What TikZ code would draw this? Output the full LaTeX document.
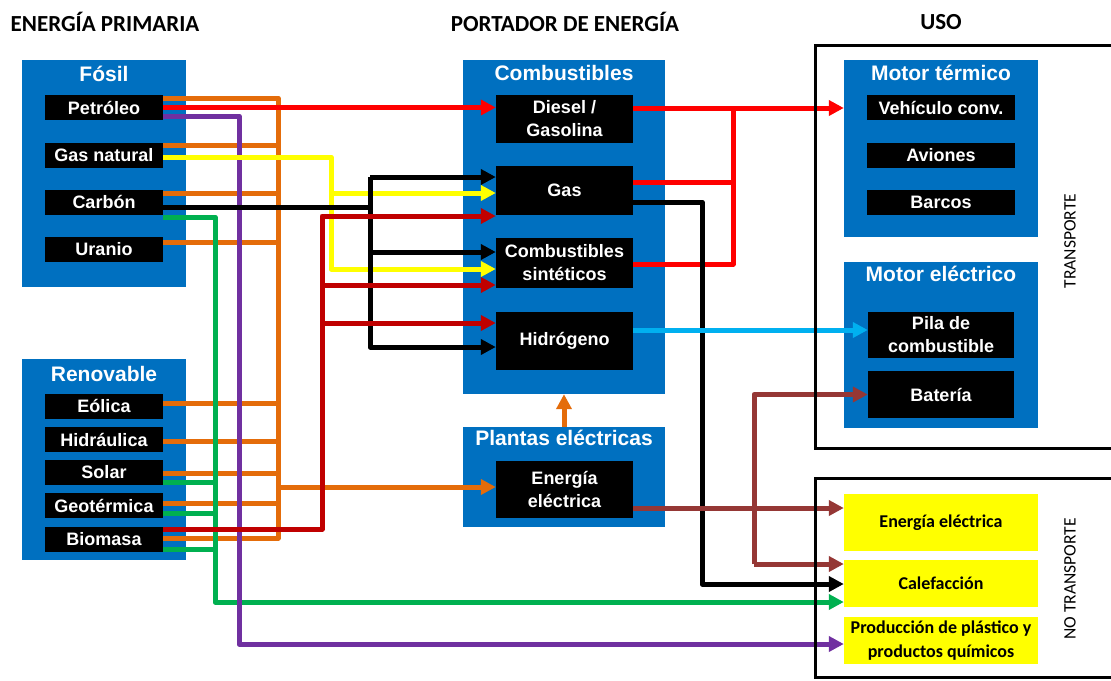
\documentclass[tikz,border=0pt]{standalone}
\usepackage{fontspec}
\setmainfont{Liberation Sans}
\newfontfamily\calibri{Carlito}
\usetikzlibrary{arrows.meta}
\definecolor{boxblue}{HTML}{0070C0}
\definecolor{orng}{HTML}{E46C0A}
\definecolor{grn}{HTML}{00B050}
\definecolor{purp}{HTML}{7030A0}
\definecolor{brred}{HTML}{FF0000}
\definecolor{dred}{HTML}{C00000}
\definecolor{lblue}{HTML}{00B0F0}
\definecolor{brwn}{HTML}{953735}
\definecolor{yel}{HTML}{FFFF00}
\begin{document}
\begin{tikzpicture}[x=1pt,y=-1pt,
 grpbox/.style={fill=boxblue, inner sep=0pt},
 itembox/.style={fill=black, text=white, font=\bfseries\fontsize{18}{23}\selectfont, inner sep=0pt, align=center},
 ttl/.style={text=white, font=\bfseries\fontsize{21}{24}\selectfont, inner sep=0pt},
 usebox/.style={fill=yel, text=black, font=\calibri\bfseries\fontsize{18}{24}\selectfont, inner sep=0pt, align=center, minimum width=194pt},
 hdr/.style={font=\calibri\bfseries\fontsize{23}{24}\selectfont, inner sep=0pt},
 sidelbl/.style={font=\calibri\fontsize{17.5}{20}\selectfont, rotate=90, inner sep=0pt},
 uframe/.style={draw=black, line width=3pt},
 conn/.style={line width=5pt, line join=round},
 arr/.style={-{Triangle[length=15pt,width=15pt]}},
]
\clip (0,0) rectangle (1111,680);
\fill[white] (0,0) rectangle (1111,680);

% headers
\node[hdr] (h1) at (105,22) {ENERGÍA PRIMARIA};
\node[hdr] (h2) at (565,22) {PORTADOR DE ENERGÍA};
\node[hdr] (h3) at (941,22) {USO};

% primary energy
\node[grpbox, minimum width=164pt, minimum height=227pt] (fosil) at (104,173.5) {};
\node[ttl] (fosilT) at (104,74) {Fósil};
\node[itembox, minimum width=118pt, minimum height=25pt] (pet) at (104,107.5) {Petróleo};
\node[itembox, minimum width=118pt, minimum height=25pt] (gasn) at (104,155) {Gas natural};
\node[itembox, minimum width=118pt, minimum height=25pt] (carb) at (104,202) {Carbón};
\node[itembox, minimum width=118pt, minimum height=25pt] (uran) at (104,249.5) {Uranio};

\node[grpbox, minimum width=164pt, minimum height=201pt] (renov) at (104,459.5) {};
\node[ttl] (renovT) at (104,374) {Renovable};
\node[itembox, minimum width=118pt, minimum height=25pt] (eol) at (104,406) {Eólica};
\node[itembox, minimum width=118pt, minimum height=25pt] (hid) at (104,439.5) {Hidráulica};
\node[itembox, minimum width=118pt, minimum height=25pt] (sol) at (104,472.5) {Solar};
\node[itembox, minimum width=118pt, minimum height=25pt] (geo) at (104,505.5) {Geotérmica};
\node[itembox, minimum width=118pt, minimum height=25pt] (bio) at (104,539) {Biomasa};

% carriers
\node[grpbox, minimum width=202pt, minimum height=334pt] (comb) at (564,227) {};
\node[ttl] (combT) at (564,73) {Combustibles};
\node[itembox, minimum width=137pt, minimum height=48pt] (diesel) at (564.5,119) {Diesel /\\Gasolina};
\node[itembox, minimum width=137pt, minimum height=49pt] (gas) at (564.5,190.5) {Gas};
\node[itembox, minimum width=137pt, minimum height=50pt] (sint) at (564.5,263) {Combustibles\\sintéticos};
\node[itembox, minimum width=137pt, minimum height=58pt] (hidro) at (564.5,341) {Hidrógeno};

\node[grpbox, minimum width=202pt, minimum height=100pt] (plantas) at (564,477) {};
\node[ttl] (plantasT) at (564,438) {Plantas eléctricas};
\node[itembox, minimum width=137pt, minimum height=57pt] (eelec) at (564.5,489.5) {Energía\\eléctrica};

% uses
\node[grpbox, minimum width=194pt, minimum height=177pt] (motort) at (941,148.5) {};
\node[ttl] (motortT) at (941,73) {Motor térmico};
\node[itembox, minimum width=148pt, minimum height=25pt] (veh) at (941,107.5) {Vehículo conv.};
\node[itembox, minimum width=148pt, minimum height=25pt] (avi) at (941,155) {Aviones};
\node[itembox, minimum width=148pt, minimum height=25pt] (bar) at (941,202) {Barcos};

\node[grpbox, minimum width=194pt, minimum height=166pt] (motore) at (941,345) {};
\node[ttl] (motoreT) at (941,274) {Motor eléctrico};
\node[itembox, minimum width=146pt, minimum height=46pt] (pila) at (941,335) {Pila de\\combustible};
\node[itembox, minimum width=146pt, minimum height=47pt] (bat) at (941,394.5) {Batería};

\node[usebox, minimum height=57pt] (yel1) at (941,522.5) {Energía eléctrica};
\node[usebox, minimum height=47pt] (cal) at (941,583.5) {Calefacción};
\node[usebox, minimum height=47pt] (prod) at (941,640.5) {Producción de plástico y\\productos químicos};

\node[sidelbl] (tr) at (1070,241) {TRANSPORTE};
\node[sidelbl] (ntr) at (1070,579) {NO TRANSPORTE};

% bus x positions
\coordinate (xo) at (278,0);
\coordinate (xg) at (215,0);
\coordinate (xp) at (239,0);
\coordinate (xy) at (331,0);
\coordinate (xk) at (370,0);
\coordinate (xr) at (322,0);
\coordinate (xR) at (733,0);
\coordinate (xK) at (702,0);
\coordinate (xB) at (754,0);

% orange
\draw[conn, orng] ([yshift=9.5pt]pet.east) -| ([yshift=1pt]bio.east -| xo) -- ([yshift=1pt]bio.east);
\draw[conn, orng] ([yshift=10pt]gasn.east) -- ([yshift=10pt]gasn.east -| xo);
\draw[conn, orng] ([yshift=9pt]carb.east) -- ([yshift=9pt]carb.east -| xo);
\draw[conn, orng] ([yshift=7.5pt]uran.east) -- ([yshift=7.5pt]uran.east -| xo);
\draw[conn, orng] ([yshift=3pt]eol.east) -- ([yshift=3pt]eol.east -| xo);
\draw[conn, orng] ([yshift=-1.5pt]hid.east) -- ([yshift=-1.5pt]hid.east -| xo);
\draw[conn, orng] ([yshift=-0.5pt]sol.east) -- ([yshift=-0.5pt]sol.east -| xo);
\draw[conn, orng] ([yshift=2.5pt]geo.east) -- ([yshift=2.5pt]geo.east -| xo);
\draw[conn, orng, arr] ([yshift=2.5pt]eelec.west -| xo) -- ([yshift=2.5pt]eelec.west);
\draw[conn, orng, arr] (plantas.north) -- (comb.south);

% green
\draw[conn, grn, arr] ([yshift=-15pt]carb.east) -| ([yshift=-18.5pt]cal.west -| xg) -- ([yshift=-18.5pt]cal.west);
\draw[conn, grn] ([yshift=-9.5pt]sol.east) -- ([yshift=-9.5pt]sol.east -| xg);
\draw[conn, grn] ([yshift=-7.5pt]geo.east) -- ([yshift=-7.5pt]geo.east -| xg);
\draw[conn, grn] ([yshift=-10pt]bio.east) -- ([yshift=-10pt]bio.east -| xg);

% purple
\draw[conn, purp, arr] ([yshift=-8.5pt]pet.east) -| ([yshift=-3.5pt]prod.west -| xp) -- ([yshift=-3.5pt]prod.west);

% yellow
\draw[conn, yel, arr] ([yshift=-2pt]gasn.east) -| ([yshift=-6pt]sint.west -| xy) -- ([yshift=-6pt]sint.west);
\draw[conn, yel, arr] ([yshift=-2.5pt]gas.west -| xy) -- ([yshift=-2.5pt]gas.west);

% black (left)
\draw[conn, black] ([yshift=-5pt]carb.east) -- ([yshift=-5pt]carb.east -| xk);
\draw[conn, black, arr] ([yshift=13.5pt]gas.west -| xk) -- ([yshift=13.5pt]gas.west);
\draw[conn, black, arr] ([yshift=13.5pt]gas.west -| xk) |- ([yshift=-6pt]hidro.west);
\draw[conn, black, arr] ([yshift=11pt]sint.west -| xk) -- ([yshift=11pt]sint.west);

% dark red
\draw[conn, dred, arr] ([yshift=10pt]bio.east) -| ([yshift=-25.5pt]gas.west -| xr) -- ([yshift=-25.5pt]gas.west);
\draw[conn, dred, arr] ([yshift=-22pt]sint.west -| xr) -- ([yshift=-22pt]sint.west);
\draw[conn, dred, arr] ([yshift=18pt]hidro.west -| xr) -- ([yshift=18pt]hidro.west);

% bright red
\draw[conn, brred, arr] (pet.east) -- (pet.east -| diesel.west);
\draw[conn, brred, arr] ([yshift=11pt]diesel.east) -- ([yshift=11pt]diesel.east -| motort.west);
\draw[conn, brred] ([yshift=-1pt]sint.east) -| ([yshift=11pt]diesel.east -| xR);
\draw[conn, brred] ([yshift=8.5pt]gas.east) -- ([yshift=8.5pt]gas.east -| xR);

% black (right)
\draw[conn, black, arr] ([yshift=-11.5pt]gas.east) -| ([yshift=-0.5pt]cal.west -| xK) -- ([yshift=-0.5pt]cal.west);

% light blue
\draw[conn, lblue, arr] ([yshift=11pt]hidro.east) -- ([yshift=11pt]hidro.east -| pila.west);

% brown
\draw[conn, brwn, arr] ([yshift=-18.5pt]eelec.east) -- ([yshift=-18.5pt]eelec.east -| yel1.west);
\draw[conn, brwn, arr] ([yshift=19.5pt]cal.west -| xB) |- (bat.west);
\draw[conn, brwn, arr] ([yshift=19.5pt]cal.west -| xB) -- ([yshift=19.5pt]cal.west);

% frames
\draw[uframe] (815,45) rectangle (1140,448);
\draw[uframe] (815,478) rectangle (1140,677.5);
\end{tikzpicture}
\end{document}
